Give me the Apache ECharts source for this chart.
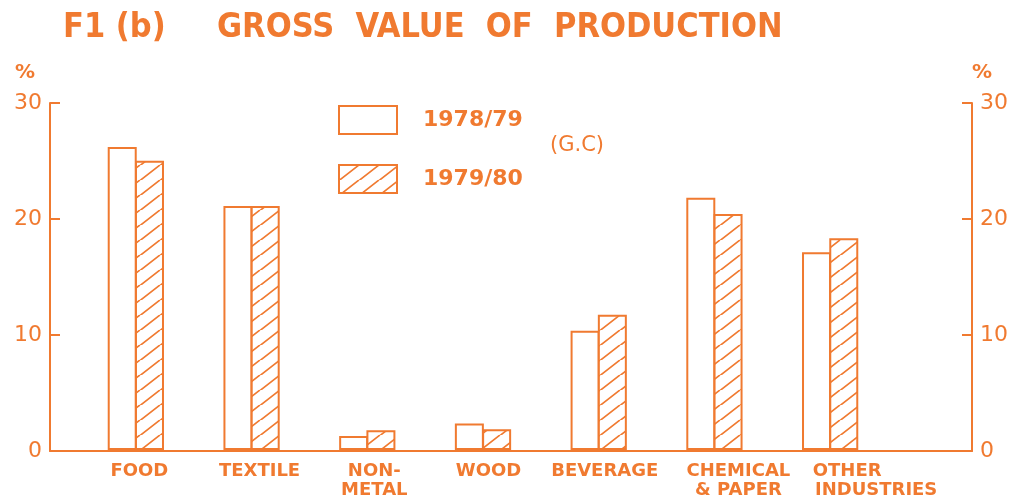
<!DOCTYPE html>
<html>
<head>
<meta charset="utf-8">
<script src="https://cdn.jsdelivr.net/npm/echarts@6/dist/echarts.min.js"></script>
<style>
html, body { margin: 0; background: #ffffff; }
#chart { width: 1014px; height: 500px; }
</style>
</head>
<body>
<div id="chart"></div>
<script>
// data
var categories = ["FOOD", "TEXTILE", "NON-\nMETAL", "WOOD", "BEVERAGE", "CHEMICAL\n& PAPER", "OTHER\nINDUSTRIES"];
var years = ["1978/79", "1979/80"];
var share7879 = [26.2, 21.1, 1.2, 2.3, 10.3, 21.8, 17.1];
var share7980 = [25.0, 21.1, 1.7, 1.8, 11.7, 20.4, 18.3];
var yTicks = [0, 10, 20, 30];

// label nudges (px of left padding), the labels sit a bit right of the bars
var labelShift = [7, 16, 14, 11, 12, 48, 92];

var orange = "#f07a30";

// diagonal hatching for the second series
function hatch() {
  var w = 20, h = 15.5;
  var c = document.createElement("canvas");
  c.width = w;
  c.height = h;
  var g = c.getContext("2d");
  g.fillStyle = "#ffffff";
  g.fillRect(0, 0, w, h);
  g.strokeStyle = orange;
  g.lineWidth = 1.7;
  g.beginPath();
  g.moveTo(0, h); g.lineTo(w, 0);
  g.moveTo(-w, h); g.lineTo(0, 0);
  g.moveTo(w, h); g.lineTo(2 * w, 0);
  g.stroke();
  return { image: c, repeat: "repeat" };
}

var myChart = echarts.init(document.getElementById("chart"));

var option = {
  backgroundColor: "#ffffff",
  animation: false,
  textStyle: { fontFamily: "DejaVu Sans", color: orange },
  graphic: [
    {
      type: "text", left: 63, top: 11,
      style: { text: "F1 (b)", fill: orange, font: "bold 34px 'DejaVu Sans Condensed'" }
    },
    {
      type: "text", left: 217, top: 11,
      style: { text: "GROSS  VALUE  OF  PRODUCTION", fill: orange, font: "bold 34px 'DejaVu Sans Condensed'" }
    },
    {
      type: "text", left: 550, top: 135,
      style: { text: "(G.C)", fill: orange, font: "21px 'DejaVu Sans'" }
    }
  ],
  legend: {
    data: years,
    orient: "vertical",
    left: 338,
    top: 105,
    padding: 0,
    icon: "rect",
    itemWidth: 58,
    itemHeight: 28,
    itemGap: 29,
    textStyle: { color: orange, fontSize: 22, fontWeight: "bold", padding: [0, 0, 0, 21] }
  },
  grid: [
    { left: 50, right: 42, top: 103, bottom: 49 },
    { left: 78, right: 126, top: 103, bottom: 49 }
  ],
  xAxis: [
    {
      gridIndex: 0, type: "value", min: 0, max: 1,
      axisLine: { show: true, lineStyle: { color: orange, width: 2 } },
      axisTick: { show: false }, axisLabel: { show: false }, splitLine: { show: false }
    },
    {
      gridIndex: 1, type: "category",
      data: categories.map(function (c, i) {
        return { value: c, textStyle: { padding: [0, 0, 0, labelShift[i]] } };
      }),
      axisLine: { show: false }, axisTick: { show: false },
      axisLabel: {
        interval: 0, margin: 12, color: orange, fontSize: 18, fontWeight: "bold", lineHeight: 19,
        formatter: function (v, i) {
          if (i === 6) {
            var parts = v.split("\n");
            return "{w|" + parts[0] + "}\n" + parts[1];
          }
          return v;
        },
        rich: { w: { padding: [0, 58, 0, 0], fontSize: 18, fontWeight: "bold", color: orange } }
      }
    }
  ],
  yAxis: [
    {
      gridIndex: 0, type: "value", position: "left",
      min: yTicks[0], max: yTicks[yTicks.length - 1], interval: 10,
      name: "%", nameLocation: "end", nameGap: 20,
      nameTextStyle: { color: orange, fontSize: 20, fontWeight: "bold", align: "right", padding: [0, 15, 0, 0] },
      axisLine: { show: true, lineStyle: { color: orange, width: 2 } },
      axisTick: { show: true, inside: true, length: 10, lineStyle: { color: orange, width: 2 } },
      axisLabel: { color: orange, fontSize: 22, margin: 8 },
      splitLine: { show: false }
    },
    {
      gridIndex: 0, type: "value", position: "right",
      min: yTicks[0], max: yTicks[yTicks.length - 1], interval: 10,
      name: "%", nameLocation: "end", nameGap: 20,
      nameTextStyle: { color: orange, fontSize: 20, fontWeight: "bold", align: "left" },
      axisLine: { show: true, lineStyle: { color: orange, width: 2 } },
      axisTick: { show: true, inside: true, length: 10, lineStyle: { color: orange, width: 2 } },
      axisLabel: { color: orange, fontSize: 22, margin: 8 },
      splitLine: { show: false }
    },
    {
      gridIndex: 1, type: "value", min: 0, max: 30, show: false
    }
  ],
  series: [
    {
      name: years[0], type: "bar", xAxisIndex: 1, yAxisIndex: 2,
      barWidth: 29, barGap: "-6%",
      itemStyle: { color: "#ffffff", borderColor: orange, borderWidth: 2 },
      data: share7879
    },
    {
      name: years[1], type: "bar", xAxisIndex: 1, yAxisIndex: 2,
      barWidth: 29, barGap: "-6%",
      itemStyle: { color: hatch(), borderColor: orange, borderWidth: 2 },
      data: share7980
    }
  ]
};

myChart.setOption(option);
window.addEventListener("resize", function () {
  myChart.resize();
});
</script>
</body>
</html>
